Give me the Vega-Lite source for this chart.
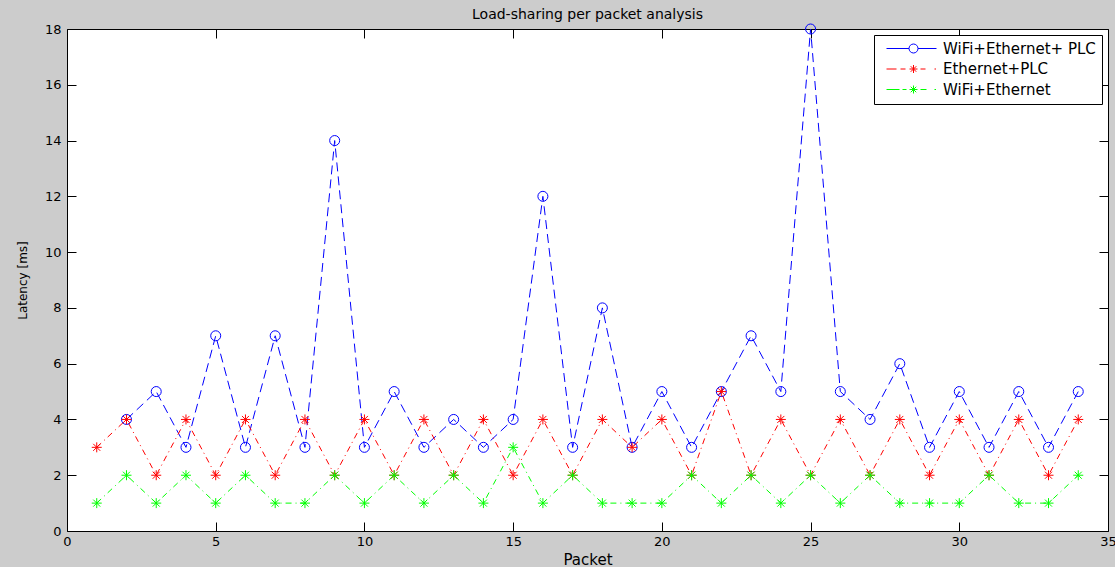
{
  "$schema": "https://vega.github.io/schema/vega-lite/v6.json",
  "width": 1041,
  "height": 502,
  "autosize": {"type": "none"},
  "padding": {"left": 67, "top": 29, "right": 7, "bottom": 36},
  "background": "#cccccc",
  "title": {"text": "Load-sharing per packet analysis", "font": "DejaVu Sans", "fontSize": 14, "fontWeight": "normal", "color": "black", "offset": 0},
  "config": {
    "view": {"fill": "white", "stroke": "black", "strokeWidth": 1},
    "axis": {"grid": false, "domain": false, "tickColor": "black", "tickSize": -9, "labelFont": "DejaVu Sans", "labelFontSize": 13, "labelColor": "black", "titleFont": "DejaVu Sans", "titleFontSize": 15, "titleFontWeight": "normal", "titleColor": "black", "labelFlush": false, "labelOverlap": false}
  },
  "data": {"values": [
    {"packet": 2, "latency": 4, "series": "WiFi+Ethernet+ PLC"},
    {"packet": 3, "latency": 5, "series": "WiFi+Ethernet+ PLC"},
    {"packet": 4, "latency": 3, "series": "WiFi+Ethernet+ PLC"},
    {"packet": 5, "latency": 7, "series": "WiFi+Ethernet+ PLC"},
    {"packet": 6, "latency": 3, "series": "WiFi+Ethernet+ PLC"},
    {"packet": 7, "latency": 7, "series": "WiFi+Ethernet+ PLC"},
    {"packet": 8, "latency": 3, "series": "WiFi+Ethernet+ PLC"},
    {"packet": 9, "latency": 14, "series": "WiFi+Ethernet+ PLC"},
    {"packet": 10, "latency": 3, "series": "WiFi+Ethernet+ PLC"},
    {"packet": 11, "latency": 5, "series": "WiFi+Ethernet+ PLC"},
    {"packet": 12, "latency": 3, "series": "WiFi+Ethernet+ PLC"},
    {"packet": 13, "latency": 4, "series": "WiFi+Ethernet+ PLC"},
    {"packet": 14, "latency": 3, "series": "WiFi+Ethernet+ PLC"},
    {"packet": 15, "latency": 4, "series": "WiFi+Ethernet+ PLC"},
    {"packet": 16, "latency": 12, "series": "WiFi+Ethernet+ PLC"},
    {"packet": 17, "latency": 3, "series": "WiFi+Ethernet+ PLC"},
    {"packet": 18, "latency": 8, "series": "WiFi+Ethernet+ PLC"},
    {"packet": 19, "latency": 3, "series": "WiFi+Ethernet+ PLC"},
    {"packet": 20, "latency": 5, "series": "WiFi+Ethernet+ PLC"},
    {"packet": 21, "latency": 3, "series": "WiFi+Ethernet+ PLC"},
    {"packet": 22, "latency": 5, "series": "WiFi+Ethernet+ PLC"},
    {"packet": 23, "latency": 7, "series": "WiFi+Ethernet+ PLC"},
    {"packet": 24, "latency": 5, "series": "WiFi+Ethernet+ PLC"},
    {"packet": 25, "latency": 18, "series": "WiFi+Ethernet+ PLC"},
    {"packet": 26, "latency": 5, "series": "WiFi+Ethernet+ PLC"},
    {"packet": 27, "latency": 4, "series": "WiFi+Ethernet+ PLC"},
    {"packet": 28, "latency": 6, "series": "WiFi+Ethernet+ PLC"},
    {"packet": 29, "latency": 3, "series": "WiFi+Ethernet+ PLC"},
    {"packet": 30, "latency": 5, "series": "WiFi+Ethernet+ PLC"},
    {"packet": 31, "latency": 3, "series": "WiFi+Ethernet+ PLC"},
    {"packet": 32, "latency": 5, "series": "WiFi+Ethernet+ PLC"},
    {"packet": 33, "latency": 3, "series": "WiFi+Ethernet+ PLC"},
    {"packet": 34, "latency": 5, "series": "WiFi+Ethernet+ PLC"},
    {"packet": 1, "latency": 3, "series": "Ethernet+PLC"},
    {"packet": 2, "latency": 4, "series": "Ethernet+PLC"},
    {"packet": 3, "latency": 2, "series": "Ethernet+PLC"},
    {"packet": 4, "latency": 4, "series": "Ethernet+PLC"},
    {"packet": 5, "latency": 2, "series": "Ethernet+PLC"},
    {"packet": 6, "latency": 4, "series": "Ethernet+PLC"},
    {"packet": 7, "latency": 2, "series": "Ethernet+PLC"},
    {"packet": 8, "latency": 4, "series": "Ethernet+PLC"},
    {"packet": 9, "latency": 2, "series": "Ethernet+PLC"},
    {"packet": 10, "latency": 4, "series": "Ethernet+PLC"},
    {"packet": 11, "latency": 2, "series": "Ethernet+PLC"},
    {"packet": 12, "latency": 4, "series": "Ethernet+PLC"},
    {"packet": 13, "latency": 2, "series": "Ethernet+PLC"},
    {"packet": 14, "latency": 4, "series": "Ethernet+PLC"},
    {"packet": 15, "latency": 2, "series": "Ethernet+PLC"},
    {"packet": 16, "latency": 4, "series": "Ethernet+PLC"},
    {"packet": 17, "latency": 2, "series": "Ethernet+PLC"},
    {"packet": 18, "latency": 4, "series": "Ethernet+PLC"},
    {"packet": 19, "latency": 3, "series": "Ethernet+PLC"},
    {"packet": 20, "latency": 4, "series": "Ethernet+PLC"},
    {"packet": 21, "latency": 2, "series": "Ethernet+PLC"},
    {"packet": 22, "latency": 5, "series": "Ethernet+PLC"},
    {"packet": 23, "latency": 2, "series": "Ethernet+PLC"},
    {"packet": 24, "latency": 4, "series": "Ethernet+PLC"},
    {"packet": 25, "latency": 2, "series": "Ethernet+PLC"},
    {"packet": 26, "latency": 4, "series": "Ethernet+PLC"},
    {"packet": 27, "latency": 2, "series": "Ethernet+PLC"},
    {"packet": 28, "latency": 4, "series": "Ethernet+PLC"},
    {"packet": 29, "latency": 2, "series": "Ethernet+PLC"},
    {"packet": 30, "latency": 4, "series": "Ethernet+PLC"},
    {"packet": 31, "latency": 2, "series": "Ethernet+PLC"},
    {"packet": 32, "latency": 4, "series": "Ethernet+PLC"},
    {"packet": 33, "latency": 2, "series": "Ethernet+PLC"},
    {"packet": 34, "latency": 4, "series": "Ethernet+PLC"},
    {"packet": 1, "latency": 1, "series": "WiFi+Ethernet"},
    {"packet": 2, "latency": 2, "series": "WiFi+Ethernet"},
    {"packet": 3, "latency": 1, "series": "WiFi+Ethernet"},
    {"packet": 4, "latency": 2, "series": "WiFi+Ethernet"},
    {"packet": 5, "latency": 1, "series": "WiFi+Ethernet"},
    {"packet": 6, "latency": 2, "series": "WiFi+Ethernet"},
    {"packet": 7, "latency": 1, "series": "WiFi+Ethernet"},
    {"packet": 8, "latency": 1, "series": "WiFi+Ethernet"},
    {"packet": 9, "latency": 2, "series": "WiFi+Ethernet"},
    {"packet": 10, "latency": 1, "series": "WiFi+Ethernet"},
    {"packet": 11, "latency": 2, "series": "WiFi+Ethernet"},
    {"packet": 12, "latency": 1, "series": "WiFi+Ethernet"},
    {"packet": 13, "latency": 2, "series": "WiFi+Ethernet"},
    {"packet": 14, "latency": 1, "series": "WiFi+Ethernet"},
    {"packet": 15, "latency": 3, "series": "WiFi+Ethernet"},
    {"packet": 16, "latency": 1, "series": "WiFi+Ethernet"},
    {"packet": 17, "latency": 2, "series": "WiFi+Ethernet"},
    {"packet": 18, "latency": 1, "series": "WiFi+Ethernet"},
    {"packet": 19, "latency": 1, "series": "WiFi+Ethernet"},
    {"packet": 20, "latency": 1, "series": "WiFi+Ethernet"},
    {"packet": 21, "latency": 2, "series": "WiFi+Ethernet"},
    {"packet": 22, "latency": 1, "series": "WiFi+Ethernet"},
    {"packet": 23, "latency": 2, "series": "WiFi+Ethernet"},
    {"packet": 24, "latency": 1, "series": "WiFi+Ethernet"},
    {"packet": 25, "latency": 2, "series": "WiFi+Ethernet"},
    {"packet": 26, "latency": 1, "series": "WiFi+Ethernet"},
    {"packet": 27, "latency": 2, "series": "WiFi+Ethernet"},
    {"packet": 28, "latency": 1, "series": "WiFi+Ethernet"},
    {"packet": 29, "latency": 1, "series": "WiFi+Ethernet"},
    {"packet": 30, "latency": 1, "series": "WiFi+Ethernet"},
    {"packet": 31, "latency": 2, "series": "WiFi+Ethernet"},
    {"packet": 32, "latency": 1, "series": "WiFi+Ethernet"},
    {"packet": 33, "latency": 1, "series": "WiFi+Ethernet"},
    {"packet": 34, "latency": 2, "series": "WiFi+Ethernet"}
  ]},
  "resolve": {"scale": {"shape": "independent", "color": "independent"}, "axis": {"x": "independent", "y": "independent"}},
  "layer": [
    {
      "mark": {"type": "line", "strokeWidth": 1},
      "encoding": {
        "x": {"field": "packet", "type": "quantitative", "scale": {"domain": [0, 35], "nice": false, "zero": false}, "axis": {"title": "Packet", "values": [0, 5, 10, 15, 20, 25, 30, 35], "labelPadding": 13, "titlePadding": 4}},
        "y": {"field": "latency", "type": "quantitative", "scale": {"domain": [0, 18], "nice": false}, "axis": {"title": "Latency [ms]", "titleFontSize": 12, "values": [0, 2, 4, 6, 8, 10, 12, 14, 16, 18], "labelPadding": 15, "titlePadding": 15}},
        "color": {"field": "series", "type": "nominal", "scale": {"domain": ["WiFi+Ethernet+ PLC", "Ethernet+PLC", "WiFi+Ethernet"], "range": ["#0000ff", "#ff0000", "#00ff00"]}, "legend": null},
        "strokeDash": {"field": "series", "type": "nominal", "scale": {"domain": ["WiFi+Ethernet+ PLC", "Ethernet+PLC", "WiFi+Ethernet"], "range": [[9, 5], [6, 4, 1, 4], [6, 4, 1, 4]]}, "legend": null}
      }
    },
    {
      "mark": {"type": "point", "filled": false, "strokeWidth": 1, "size": 100, "opacity": 1},
      "encoding": {
        "x": {"field": "packet", "type": "quantitative", "axis": {"orient": "top", "labels": false, "title": null, "values": [0, 5, 10, 15, 20, 25, 30, 35]}},
        "y": {"field": "latency", "type": "quantitative", "axis": {"orient": "right", "labels": false, "title": null, "values": [0, 2, 4, 6, 8, 10, 12, 14, 16, 18]}},
        "color": {"field": "series", "type": "nominal", "scale": {"domain": ["WiFi+Ethernet+ PLC", "Ethernet+PLC", "WiFi+Ethernet"], "range": ["#0000ff", "#ff0000", "#00ff00"]}, "legend": null},
        "shape": {"field": "series", "type": "nominal", "scale": {"domain": ["WiFi+Ethernet+ PLC", "Ethernet+PLC", "WiFi+Ethernet"], "range": ["circle", "M-1,0H1M0,-1V1M-0.7,-0.7L0.7,0.7M-0.7,0.7L0.7,-0.7", "M-1,0H1M0,-1V1M-0.7,-0.7L0.7,0.7M-0.7,0.7L0.7,-0.7"]}, "legend": null}
      }
    },
    {
      "mark": {"type": "point", "filled": false, "strokeWidth": 1, "size": 100, "opacity": 0},
      "encoding": {
        "x": {"field": "packet", "type": "quantitative", "axis": null},
        "y": {"field": "latency", "type": "quantitative", "axis": null},
        "color": {"field": "series", "type": "nominal", "scale": {"domain": ["WiFi+Ethernet+ PLC", "Ethernet+PLC", "WiFi+Ethernet"], "range": ["#0000ff", "#ff0000", "#00ff00"]},
          "legend": {"title": null, "orient": "top-right", "offset": 6, "symbolSize": 100, "symbolStrokeWidth": 1, "symbolOffset": 26, "labelOffset": 22, "padding": 6, "rowPadding": 4.5, "strokeColor": "black", "fillColor": "white", "labelFont": "DejaVu Sans", "labelFontSize": 15, "labelColor": "black", "symbolOpacity": 1,
            "encode": {"symbols": {"update": {"opacity": {"value": 1}, "strokeOpacity": {"value": 1}, "fill": {"value": "transparent"}}}}}},
        "shape": {"field": "series", "type": "nominal",
          "scale": {"domain": ["WiFi+Ethernet+ PLC", "Ethernet+PLC", "WiFi+Ethernet"], "range": [
            "M-5.4,0H-0.9M0.9,0H4.6M-0.9,0A0.9,0.9 0 1,0 0.9,0A0.9,0.9 0 1,0 -0.9,0",
            "M-5.4,0H-3.4M-2.6,0H-1.6M-0.8,0H0.8M0,-0.8V0.8M-0.55,-0.55L0.55,0.55M-0.55,0.55L0.55,-0.55M1.4,0H2.4M4.2,0H4.5",
            "M-5.4,0H-2.8M-2.2,0H-1.4M-0.8,0H0.8M0,-0.8V0.8M-0.55,-0.55L0.55,0.55M-0.55,0.55L0.55,-0.55M1.4,0H2.6M4.2,0H4.5"
          ]},
          "legend": {"title": null, "orient": "top-right", "offset": 6, "symbolSize": 100, "symbolStrokeWidth": 1, "symbolOffset": 26, "labelOffset": 22, "padding": 6, "rowPadding": 4.5, "strokeColor": "black", "fillColor": "white", "labelFont": "DejaVu Sans", "labelFontSize": 15, "labelColor": "black", "symbolOpacity": 1,
            "encode": {"symbols": {"update": {"opacity": {"value": 1}, "strokeOpacity": {"value": 1}, "fill": {"value": "transparent"}}}}}
        }
      }
    }
  ]
}
